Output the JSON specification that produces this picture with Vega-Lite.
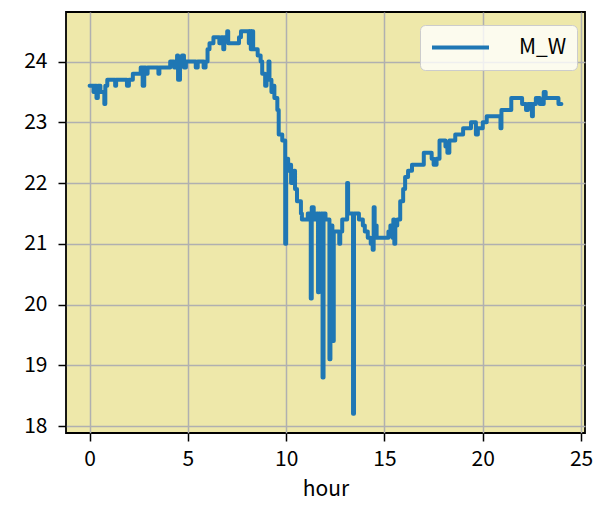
{
  "$schema": "https://vega.github.io/schema/vega-lite/v6.json",
  "autosize": "none",
  "width": 519,
  "height": 421,
  "padding": {"left": 66, "top": 12, "right": 15, "bottom": 86},
  "background": "white",
  "config": {
    "font": "Noto Sans CJK JP",
    "view": {"fill": "#eee8aa", "stroke": "#000000", "strokeWidth": 1.8},
    "axis": {
      "grid": true, "gridColor": "#b0b0b0", "gridWidth": 1.5,
      "domain": false, "tickColor": "#000000", "tickSize": 8, "tickWidth": 1.5,
      "labelFontSize": 21, "labelColor": "#000000", "labelFont": "Noto Sans CJK JP",
      "titleFontSize": 21, "titleFontWeight": "normal", "titleColor": "#000000", "titleFont": "Noto Sans CJK JP"
    }
  },
  "data": {"values": [
    {"hour": 0.0, "M_W": 23.6}, {"hour": 0.2, "M_W": 23.5}, {"hour": 0.25, "M_W": 23.6}, {"hour": 0.35, "M_W": 23.4},
    {"hour": 0.42, "M_W": 23.6}, {"hour": 0.55, "M_W": 23.5}, {"hour": 0.75, "M_W": 23.3}, {"hour": 0.8, "M_W": 23.6},
    {"hour": 0.9, "M_W": 23.7}, {"hour": 1.3, "M_W": 23.6}, {"hour": 1.35, "M_W": 23.7}, {"hour": 1.9, "M_W": 23.6}, {"hour": 2.0, "M_W": 23.7}, {"hour": 2.2, "M_W": 23.8},
    {"hour": 2.6, "M_W": 23.9}, {"hour": 2.7, "M_W": 23.6}, {"hour": 2.78, "M_W": 23.9}, {"hour": 2.85, "M_W": 23.8},
    {"hour": 2.95, "M_W": 23.9}, {"hour": 3.5, "M_W": 23.8}, {"hour": 3.55, "M_W": 23.9}, {"hour": 4.1, "M_W": 24.0},
    {"hour": 4.3, "M_W": 23.9}, {"hour": 4.45, "M_W": 24.1}, {"hour": 4.5, "M_W": 23.7}, {"hour": 4.6, "M_W": 24.0},
    {"hour": 4.7, "M_W": 24.1}, {"hour": 4.8, "M_W": 23.9}, {"hour": 4.9, "M_W": 24.0}, {"hour": 5.4, "M_W": 23.9},
    {"hour": 5.5, "M_W": 24.0}, {"hour": 5.8, "M_W": 23.9}, {"hour": 5.9, "M_W": 24.0}, {"hour": 6.0, "M_W": 24.2},
    {"hour": 6.1, "M_W": 24.3}, {"hour": 6.3, "M_W": 24.4}, {"hour": 6.6, "M_W": 24.3}, {"hour": 6.7, "M_W": 24.4},
    {"hour": 6.8, "M_W": 24.2}, {"hour": 6.85, "M_W": 24.4}, {"hour": 7.0, "M_W": 24.5}, {"hour": 7.05, "M_W": 24.3},
    {"hour": 7.6, "M_W": 24.4}, {"hour": 7.7, "M_W": 24.5}, {"hour": 8.1, "M_W": 24.3}, {"hour": 8.15, "M_W": 24.5},
    {"hour": 8.2, "M_W": 24.2}, {"hour": 8.25, "M_W": 24.5}, {"hour": 8.32, "M_W": 24.2}, {"hour": 8.55, "M_W": 24.1},
    {"hour": 8.7, "M_W": 24.0}, {"hour": 8.78, "M_W": 23.8}, {"hour": 8.93, "M_W": 23.6}, {"hour": 9.0, "M_W": 23.7},
    {"hour": 9.1, "M_W": 24.0}, {"hour": 9.15, "M_W": 23.7}, {"hour": 9.25, "M_W": 23.5}, {"hour": 9.3, "M_W": 23.6},
    {"hour": 9.4, "M_W": 23.4}, {"hour": 9.55, "M_W": 23.2}, {"hour": 9.62, "M_W": 22.8}, {"hour": 9.8, "M_W": 22.7},
    {"hour": 9.95, "M_W": 21.0}, {"hour": 10.0, "M_W": 22.4}, {"hour": 10.1, "M_W": 22.2}, {"hour": 10.15, "M_W": 22.3},
    {"hour": 10.25, "M_W": 22.0}, {"hour": 10.4, "M_W": 22.2}, {"hour": 10.45, "M_W": 21.9}, {"hour": 10.55, "M_W": 21.7},
    {"hour": 10.75, "M_W": 21.5}, {"hour": 10.8, "M_W": 21.4}, {"hour": 11.1, "M_W": 21.5}, {"hour": 11.25, "M_W": 20.1},
    {"hour": 11.3, "M_W": 21.6}, {"hour": 11.4, "M_W": 21.4}, {"hour": 11.55, "M_W": 21.5}, {"hour": 11.62, "M_W": 20.2},
    {"hour": 11.67, "M_W": 21.5}, {"hour": 11.72, "M_W": 21.0}, {"hour": 11.78, "M_W": 21.5}, {"hour": 11.85, "M_W": 18.8},
    {"hour": 11.9, "M_W": 21.5}, {"hour": 12.0, "M_W": 21.4}, {"hour": 12.2, "M_W": 19.1}, {"hour": 12.25, "M_W": 21.3},
    {"hour": 12.35, "M_W": 19.4}, {"hour": 12.42, "M_W": 21.2}, {"hour": 12.7, "M_W": 21.0}, {"hour": 12.75, "M_W": 21.2},
    {"hour": 12.85, "M_W": 21.4}, {"hour": 13.1, "M_W": 22.0}, {"hour": 13.15, "M_W": 21.5}, {"hour": 13.4, "M_W": 18.2},
    {"hour": 13.45, "M_W": 21.5}, {"hour": 13.7, "M_W": 21.4}, {"hour": 13.9, "M_W": 21.3}, {"hour": 14.0, "M_W": 21.2},
    {"hour": 14.15, "M_W": 21.1}, {"hour": 14.3, "M_W": 21.0}, {"hour": 14.4, "M_W": 20.9}, {"hour": 14.45, "M_W": 21.6},
    {"hour": 14.5, "M_W": 21.3}, {"hour": 14.6, "M_W": 21.1}, {"hour": 15.2, "M_W": 21.2}, {"hour": 15.3, "M_W": 21.3},
    {"hour": 15.4, "M_W": 21.1}, {"hour": 15.45, "M_W": 21.4}, {"hour": 15.5, "M_W": 21.0}, {"hour": 15.55, "M_W": 21.3},
    {"hour": 15.65, "M_W": 21.4}, {"hour": 15.8, "M_W": 21.7}, {"hour": 15.95, "M_W": 21.9}, {"hour": 16.05, "M_W": 22.1},
    {"hour": 16.2, "M_W": 22.2}, {"hour": 16.4, "M_W": 22.3}, {"hour": 17.0, "M_W": 22.5}, {"hour": 17.4, "M_W": 22.4},
    {"hour": 17.5, "M_W": 22.3}, {"hour": 17.65, "M_W": 22.4}, {"hour": 17.8, "M_W": 22.7}, {"hour": 18.1, "M_W": 22.6},
    {"hour": 18.2, "M_W": 22.5}, {"hour": 18.3, "M_W": 22.7}, {"hour": 18.6, "M_W": 22.8}, {"hour": 19.0, "M_W": 22.9},
    {"hour": 19.4, "M_W": 23.0}, {"hour": 19.65, "M_W": 22.8}, {"hour": 19.75, "M_W": 22.9}, {"hour": 20.0, "M_W": 23.0},
    {"hour": 20.2, "M_W": 23.1}, {"hour": 20.9, "M_W": 22.9}, {"hour": 20.95, "M_W": 23.2}, {"hour": 21.45, "M_W": 23.4},
    {"hour": 22.0, "M_W": 23.3}, {"hour": 22.2, "M_W": 23.2}, {"hour": 22.3, "M_W": 23.3}, {"hour": 22.5, "M_W": 23.1},
    {"hour": 22.55, "M_W": 23.3}, {"hour": 22.7, "M_W": 23.4}, {"hour": 22.9, "M_W": 23.3}, {"hour": 23.1, "M_W": 23.5},
    {"hour": 23.2, "M_W": 23.4}, {"hour": 23.85, "M_W": 23.3}, {"hour": 24.0, "M_W": 23.3}
  ]},
  "mark": {"type": "line", "interpolate": "step-after", "strokeWidth": 4, "strokeJoin": "round", "strokeCap": "round", "clip": true},
  "encoding": {
    "x": {
      "field": "hour", "type": "quantitative", "title": "hour",
      "scale": {"domain": [-1.2, 25.2], "nice": false, "zero": false},
      "axis": {"values": [0, 5, 10, 15, 20, 25], "labelPadding": 7, "titlePadding": 9, "labelFlush": false}
    },
    "y": {
      "field": "M_W", "type": "quantitative", "title": null,
      "scale": {"domain": [17.885, 24.815], "nice": false, "zero": false},
      "axis": {"values": [18, 19, 20, 21, 22, 23, 24], "labelPadding": 11, "labelFlush": false}
    },
    "color": {
      "datum": "M_W",
      "scale": {"range": ["#1f77b4"]},
      "legend": {
        "title": null, "orient": "none", "legendX": 354, "legendY": 13,
        "padding": 10, "fillColor": "rgba(255,255,255,0.8)", "strokeColor": "#cccccc",
        "cornerRadius": 5, "symbolType": "stroke", "symbolSize": 3249, "symbolStrokeWidth": 4,
        "clipHeight": 25,
        "labelFontSize": 21, "labelOffset": 28, "labelColor": "#000000", "labelFont": "Noto Sans CJK JP"
      }
    }
  }
}
